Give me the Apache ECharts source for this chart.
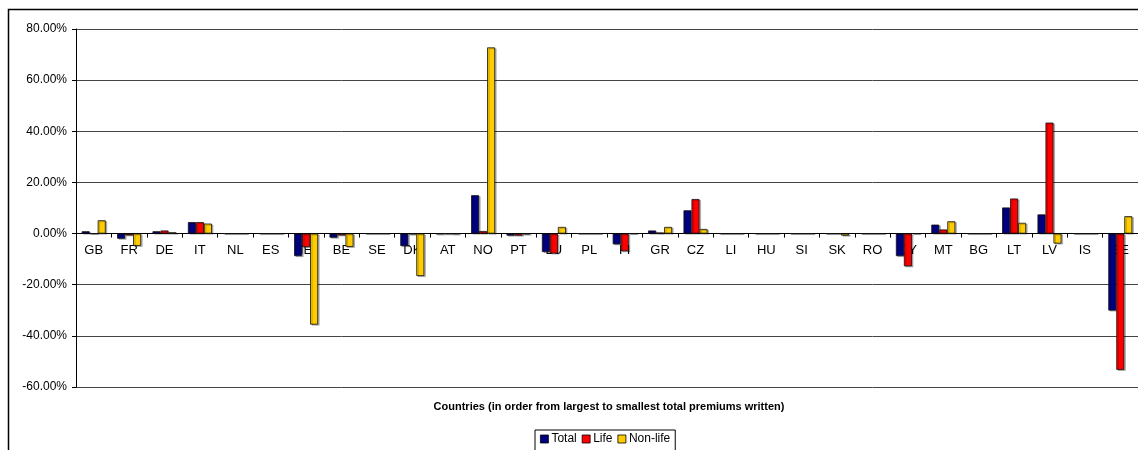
<!DOCTYPE html>
<html>
<head>
<meta charset="utf-8">
<script src="https://cdn.jsdelivr.net/npm/echarts@6/dist/echarts.min.js"></script>
<style>
  html, body { margin: 0; padding: 0; background: #fff; }
  #chart { width: 1138px; height: 450px; }
</style>
</head>
<body>
<div id="chart"></div>
<script>
// Countries, ordered from largest to smallest total premiums written
const countries = ['GB','FR','DE','IT','NL','ES','IE','BE','SE','DK','AT','NO','PT','LU','PL',
                   'FI','GR','CZ','LI','HU','SI','SK','RO','CY','MT','BG','LT','LV','IS','EE'];

// Percentage change per country
const totalValues   = [0.9, -2.0, 0.9, 4.5, 0, 0, -8.8, -1.6, 0, -4.9, -0.2, 15.0, -0.8, -7.2, 0,
                       -4.2, 1.2, 9.1, 0, 0, 0, 0, 0, -8.8, 3.5, 0, 10.2, 7.5, 0, -30.1];
const lifeValues    = [0, -0.7, 1.2, 4.5, 0, 0, -5.3, -0.7, 0, -0.3, -0.1, 1.0, -0.8, -7.8, 0,
                       -6.9, 0.4, 13.5, 0, 0, 0, 0, 0, -12.8, 1.6, 0, 13.7, 43.4, 0, -53.3];
const nonLifeValues = [5.2, -4.8, 0.5, 3.9, 0, 0, -35.6, -5.2, 0, -16.6, -0.2, 72.8, -0.3, 2.6, 0,
                       0, 2.6, 1.8, 0, 0, 0, -0.8, 0, 0, 4.8, 0, 4.2, -3.9, 0, 6.8];

// Value axis ticks
const yTicks = [-60, -40, -20, 0, 20, 40, 60, 80];

const seriesNames = ['Total', 'Life', 'Non-life'];
const seriesColors = ['#000080', '#FF0000', '#FFCC00'];
const FONT = "'Liberation Sans', Arial, sans-serif";

// Plot box
const GRID_TOP = 29, GRID_BOTTOM_Y = 387;
const yMin = yTicks[0], yMax = yTicks[yTicks.length - 1];
// Shift the category axis (line, ticks, labels) up to the zero value
const zeroY = GRID_TOP + (GRID_BOTTOM_Y - GRID_TOP) * yMax / (yMax - yMin);
const categoryAxisOffset = -(GRID_BOTTOM_Y - zeroY);

const chart = echarts.init(document.getElementById('chart'), null, { renderer: 'canvas' });

function barSeries(name, data, color) {
  return {
    name: name,
    type: 'bar',
    data: data,
    barWidth: 8,
    barGap: '0%',
    itemStyle: {
      color: color,
      borderColor: '#111',
      borderWidth: 0.8,
      shadowColor: 'rgba(0,0,0,0.28)',
      shadowOffsetX: 1.5,
      shadowOffsetY: 1
    }
  };
}

chart.setOption({
  animation: false,
  textStyle: { fontFamily: FONT },
  grid: { left: 76, right: 0, top: GRID_TOP, bottom: 450 - GRID_BOTTOM_Y, containLabel: false },
  xAxis: {
    type: 'category',
    data: countries,
    position: 'bottom',
    offset: categoryAxisOffset,
    axisLine: { onZero: false, lineStyle: { color: '#000', width: 1 } },
    axisTick: { show: true, length: 4, lineStyle: { color: '#000' } },
    axisLabel: { color: '#000', fontSize: 13, fontFamily: FONT, margin: 10, interval: 0 },
    splitLine: { show: false }
  },
  yAxis: {
    type: 'value',
    min: yMin,
    max: yMax,
    interval: 20,
    axisLine: { show: true, lineStyle: { color: '#000', width: 1 } },
    axisTick: { show: true, length: 4, lineStyle: { color: '#000' } },
    axisLabel: {
      color: '#000', fontSize: 12, fontFamily: FONT, margin: 9,
      formatter: v => v.toFixed(2) + '%'
    },
    splitLine: { show: true, lineStyle: { color: '#444', width: 1 } }
  },
  legend: {
    data: seriesNames,
    icon: 'rect',
    top: 430,
    left: 535,
    itemWidth: 8,
    itemHeight: 8,
    itemGap: 5,
    padding: [3, 5, 6, 5],
    borderColor: '#000',
    borderWidth: 1,
    textStyle: { color: '#000', fontSize: 12, fontFamily: FONT, padding: [0, 0, 0, -2] },
    itemStyle: { borderColor: '#000', borderWidth: 0.8 }
  },
  graphic: [
    {
      type: 'rect',
      shape: { x: 8.5, y: 9.5, width: 1300, height: 600 },
      style: { fill: 'none', stroke: '#000', lineWidth: 1.5 },
      silent: true,
      z: -10
    },
    {
      type: 'text',
      x: 609,
      y: 407,
      style: {
        text: 'Countries (in order from largest to smallest total premiums written)',
        fill: '#000',
        font: 'bold 11px ' + FONT,
        textAlign: 'center',
        textVerticalAlign: 'middle'
      }
    }
  ],
  series: [
    barSeries(seriesNames[0], totalValues, seriesColors[0]),
    barSeries(seriesNames[1], lifeValues, seriesColors[1]),
    barSeries(seriesNames[2], nonLifeValues, seriesColors[2])
  ]
});
</script>
</body>
</html>
